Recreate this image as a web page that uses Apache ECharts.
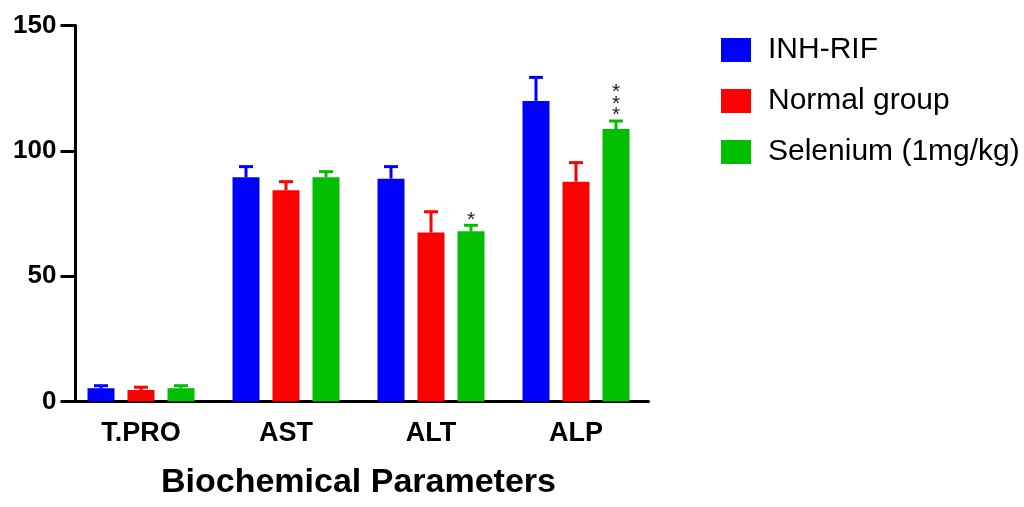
<!DOCTYPE html>
<html>
<head>
<meta charset="utf-8">
<script src="https://cdn.jsdelivr.net/npm/echarts@6/dist/echarts.min.js"></script>
<style>
html,body{margin:0;padding:0;background:#fff;}
#chart{width:1024px;height:507px;}
</style>
</head>
<body>
<div id="chart"></div>
<script>
// ---- data ----
const categories = ['T.PRO', 'AST', 'ALT', 'ALP'];
const seriesNames = ['INH-RIF', 'Normal group', 'Selenium (1mg/kg)'];
const inhRifMean = [5.3, 89.5, 88.9, 119.9];
const inhRifErr = [1.0, 4.2, 4.8, 9.4];
const normalMean = [4.6, 84.3, 67.4, 87.7];
const normalErr = [1.1, 3.4, 8.3, 7.6];
const seleniumMean = [5.3, 89.5, 67.9, 108.7];
const seleniumErr = [1.0, 2.2, 2.4, 3.2];
const seleniumSig = ['', '', '*', '***'];
const yTicks = [0, 50, 100, 150];

// ---- styling ----
const colors = ['#0000FF', '#FF0000', '#00BE00'];
const FONT = '"Liberation Sans", Arial, sans-serif';
const BAR_W = 27;
const BAR_GAP_PX = 13;
const CAP_W = 14;

const means = [inhRifMean, normalMean, seleniumMean];
const errs = [inhRifErr, normalErr, seleniumErr];

function errRenderer(si) {
  return function (params, api) {
    const x = api.value(0), v = api.value(1), e = api.value(2);
    const base = api.coord([x, v]);
    const top = api.coord([x, v + e]);
    const off = (si - 1) * (BAR_W + BAR_GAP_PX);
    const cx = base[0] + off;
    const st = { stroke: colors[si], lineWidth: 3 };
    const children = [
      { type: 'line', shape: { x1: cx, y1: base[1], x2: cx, y2: top[1] }, style: st },
      { type: 'line', shape: { x1: cx - CAP_W / 2, y1: top[1], x2: cx + CAP_W / 2, y2: top[1] }, style: st }
    ];
    if (si === 2) {
      const sig = seleniumSig[x];
      for (let k = 0; k < sig.length; k++) {
        children.push({
          type: 'text',
          style: {
            text: '*', x: cx, y: top[1] + 5 - k * 11.7,
            align: 'center', verticalAlign: 'bottom',
            font: '21px ' + FONT, fill: '#222'
          }
        });
      }
    }
    return { type: 'group', children };
  };
}

const series = [];
for (let i = 0; i < 3; i++) {
  series.push({
    name: seriesNames[i],
    type: 'bar',
    data: means[i],
    barWidth: BAR_W,
    barGap: (BAR_GAP_PX / BAR_W * 100) + '%',
    itemStyle: { color: colors[i] },
    emphasis: { disabled: true }
  });
}
for (let i = 0; i < 3; i++) {
  series.push({
    type: 'custom',
    renderItem: errRenderer(i),
    data: categories.map((c, k) => [k, means[i][k], errs[i][k]]),
    z: 3,
    silent: true
  });
}

const chart = echarts.init(document.getElementById('chart'));
chart.setOption({
  animation: false,
  backgroundColor: '#fff',
  grid: { left: 68.5, top: 25.5, width: 580, height: 376 },
  legend: {
    data: seriesNames,
    orient: 'vertical',
    left: 721,
    top: 35,
    padding: 0,
    icon: 'rect',
    itemWidth: 30,
    itemHeight: 24,
    itemGap: 21,
    selectedMode: false,
    textStyle: { fontSize: 30, lineHeight: 30, color: '#000', fontFamily: FONT, padding: [0, 0, 0, 12] }
  },
  xAxis: {
    type: 'category',
    data: categories,
    name: 'Biochemical Parameters',
    nameLocation: 'middle',
    nameGap: 64,
    nameTextStyle: { fontSize: 34, fontWeight: 'bold', color: '#000', fontFamily: FONT },
    axisLine: { lineStyle: { color: '#000', width: 3 } },
    axisTick: { alignWithLabel: true, length: 12, lineStyle: { color: '#000', width: 3 } },
    axisLabel: { margin: 19, fontSize: 27, fontWeight: 'bold', color: '#000', fontFamily: FONT }
  },
  yAxis: {
    type: 'value',
    min: yTicks[0],
    max: yTicks[yTicks.length - 1],
    interval: yTicks[1] - yTicks[0],
    offset: -7,
    splitLine: { show: false },
    axisLine: { show: true, lineStyle: { color: '#000', width: 3 } },
    axisTick: { show: true, length: 15, lineStyle: { color: '#000', width: 3 } },
    axisLabel: { margin: 19, fontSize: 26, fontWeight: 'bold', color: '#000', fontFamily: FONT }
  },
  series
});
</script>
</body>
</html>
